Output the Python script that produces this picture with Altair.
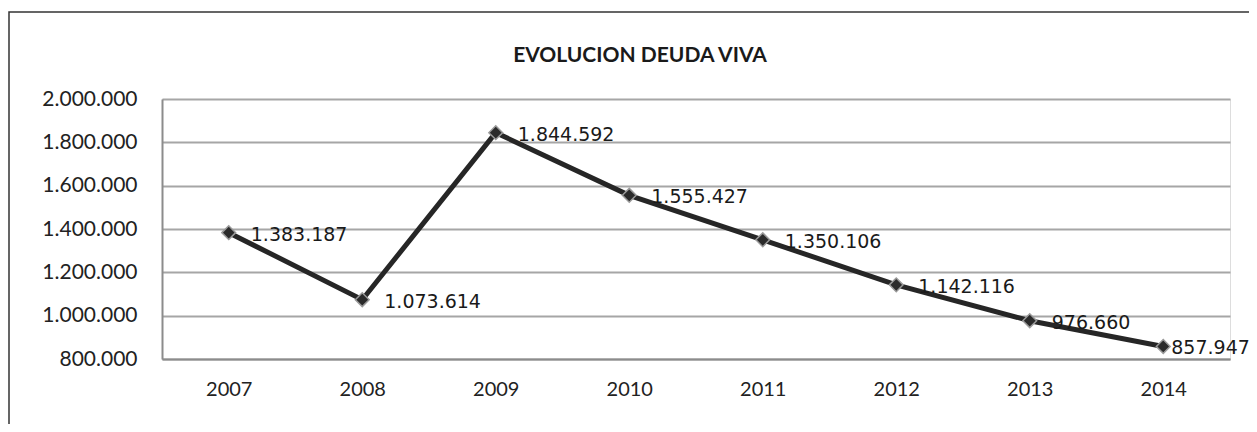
import altair as alt
import pandas as pd

years = ["2007", "2008", "2009", "2010", "2011", "2012", "2013", "2014"]
deuda = [1383187, 1073614, 1844592, 1555427, 1350106, 1142116, 976660, 857947]

df = pd.DataFrame({"year": years, "deuda": deuda})

W, H = 1068, 260

x = alt.X("year:N", title=None, sort=years,
          scale=alt.Scale(paddingInner=1, paddingOuter=0.5),
          axis=alt.Axis(labelAngle=0, ticks=False, labelPadding=20, labelFontSize=20,
                        labelFont="Lato", labelColor="#222222",
                        domainColor="#8c8c8c", domainWidth=2, grid=False))
y = alt.Y("deuda:Q", title=None,
          scale=alt.Scale(domain=[800000, 2000000], nice=False, zero=False),
          axis=alt.Axis(values=[800000, 1000000, 1200000, 1400000, 1600000, 1800000, 2000000],
                        format=",d", ticks=False, labelPadding=25, labelFontSize=21,
                        labelFont="Lato", labelColor="#222222",
                        domainColor="#8c8c8c", domainWidth=2,
                        gridColor="#a6a6a6", gridWidth=2))

base = alt.Chart(df)

frame = base.mark_rect(fill=None, stroke="#333333", strokeWidth=1.5).encode(
    x=alt.value(-153), x2=alt.value(W + 100), y=alt.value(-87), y2=alt.value(H + 200)
).transform_filter(alt.datum.year == "2007")

line = base.mark_line(color="#262626", strokeWidth=5).encode(x=x, y=y)
pts = base.mark_point(shape="diamond", filled=True, size=190, color="#2b2b2b",
                      stroke="#9a9a9a", strokeWidth=1.5, opacity=1).encode(x=x, y=y)

labels = base.mark_text(align="left", baseline="middle", dx=22, dy=2, fontSize=19,
                        font="DejaVu Sans", color="#1a1a1a").encode(
    x=x, y=y, text=alt.Text("deuda:Q", format=",d")
).transform_filter(alt.datum.year != "2014")

label_last = base.mark_text(align="left", baseline="middle", dx=8, dy=2, fontSize=19,
                            font="DejaVu Sans", color="#1a1a1a").encode(
    x=x, y=y, text=alt.Text("deuda:Q", format=",d")
).transform_filter(alt.datum.year == "2014")

chart = alt.layer(frame, line, pts, labels, label_last).properties(
    width=W, height=H,
    title=alt.TitleParams("EVOLUCION DEUDA VIVA", font="Lato", fontSize=21, fontWeight="bold",
                          color="#1a1a1a", anchor="middle", frame="group", dx=-56, offset=-55),
    autosize=alt.AutoSizeParams(type="none"),
    padding={"left": 154, "top": 91, "right": 19, "bottom": 65},
).configure_view(stroke=None).configure(background="white")

chart.save("out.html", embed_options={
    "renderer": "svg", "actions": False,
    "formatLocale": {"decimal": ",", "thousands": ".", "grouping": [3], "currency": ["", " €"]},
})
